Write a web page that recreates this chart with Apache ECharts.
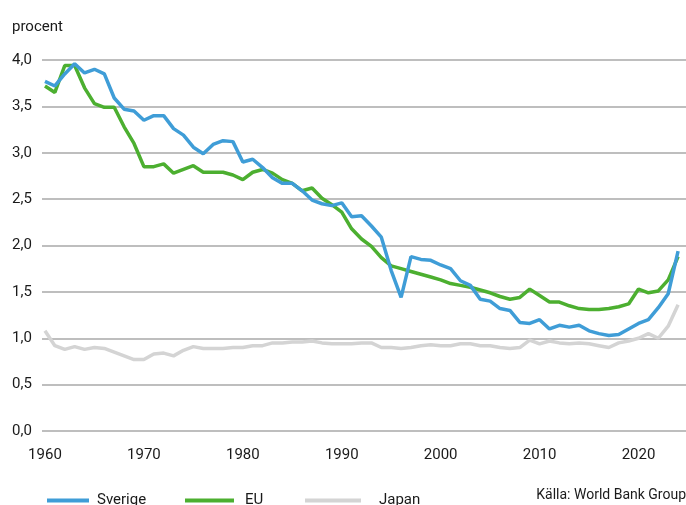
<!DOCTYPE html>
<html lang="sv">
<head>
    <meta charset="UTF-8">
    <title>Energiintensitet</title>
    <style>
      html, body { margin: 0; padding: 0; background: #fff; }
      #chart { width: 686px; height: 505px; }
    </style>
</head>
<body>
  <div id="chart"></div>

  <script src="https://cdn.jsdelivr.net/npm/echarts@6/dist/echarts.min.js"></script>
  <script type="text/javascript">
    // data, one value per year 1960-2024
    const startYear = 1960;
    const xTicks = [1960, 1970, 1980, 1990, 2000, 2010, 2020];

    const sverige = [
      3.77, 3.72, 3.85, 3.96, 3.86, 3.90, 3.85, 3.59, 3.47, 3.45,
      3.35, 3.40, 3.40, 3.26, 3.19, 3.06, 2.99, 3.09, 3.13, 3.12,
      2.90, 2.93, 2.84, 2.73, 2.67, 2.67, 2.59, 2.49, 2.45, 2.43,
      2.46, 2.31, 2.32, 2.21, 2.09, 1.73, 1.44, 1.88, 1.85, 1.84,
      1.79, 1.75, 1.62, 1.57, 1.42, 1.40, 1.32, 1.30, 1.17, 1.16,
      1.20, 1.10, 1.14, 1.12, 1.14, 1.08, 1.05, 1.03, 1.04, 1.10,
      1.16, 1.20, 1.33, 1.48, 1.94
    ];

    const eu = [
      3.72, 3.65, 3.94, 3.94, 3.70, 3.53, 3.49, 3.49, 3.28, 3.10,
      2.85, 2.85, 2.88, 2.78, 2.82, 2.86, 2.79, 2.79, 2.79, 2.76,
      2.71, 2.79, 2.82, 2.78, 2.71, 2.67, 2.59, 2.62, 2.51, 2.44,
      2.36, 2.18, 2.07, 1.99, 1.87, 1.78, 1.75, 1.72, 1.69, 1.66,
      1.63, 1.59, 1.57, 1.55, 1.52, 1.49, 1.45, 1.42, 1.44, 1.53,
      1.46, 1.39, 1.39, 1.35, 1.32, 1.31, 1.31, 1.32, 1.34, 1.37,
      1.53, 1.49, 1.51, 1.63, 1.88
    ];

    const japan = [
      1.08, 0.92, 0.88, 0.91, 0.88, 0.90, 0.89, 0.85, 0.81, 0.77,
      0.77, 0.83, 0.84, 0.81, 0.87, 0.91, 0.89, 0.89, 0.89, 0.90,
      0.90, 0.92, 0.92, 0.95, 0.95, 0.96, 0.96, 0.97, 0.95, 0.94,
      0.94, 0.94, 0.95, 0.95, 0.90, 0.90, 0.89, 0.90, 0.92, 0.93,
      0.92, 0.92, 0.94, 0.94, 0.92, 0.92, 0.90, 0.89, 0.90, 0.98,
      0.94, 0.97, 0.95, 0.94, 0.95, 0.94, 0.92, 0.90, 0.95, 0.97,
      1.00, 1.05, 1.00, 1.13, 1.36
    ];

    function toPairs(values) {
      return values.map(function (v, i) { return [startYear + i, v]; });
    }

    const font = 'Roboto';
    const textColor = '#1a1a1a';
    const blue = '#3f9dd7';
    const green = '#4caf30';
    const grey = '#d4d4d4';

    var dom = document.getElementById('chart');
    var myChart = echarts.init(dom, null, { renderer: 'canvas' });

    var option = {
      animation: false,
      grid: { left: 42, right: 0, top: 60, bottom: 74 },
      graphic: [
        {
          type: 'text', left: 12, top: 20,
          style: { text: 'procent', fontFamily: font, fontSize: 15, fill: textColor }
        },
        {
          type: 'text', right: 0, top: 488,
          style: { text: 'Källa: World Bank Group', fontFamily: font, fontSize: 14, fill: textColor }
        }
      ],
      legend: [
        {
          left: 42, top: 488, itemWidth: 42, itemHeight: 4, icon: 'rect',
          data: ['Sverige'],
          textStyle: { fontFamily: font, fontSize: 15, color: textColor, padding: [0, 0, 0, 3] }
        },
        {
          left: 180, top: 488, itemWidth: 49, itemHeight: 4, icon: 'rect',
          data: ['EU'],
          textStyle: { fontFamily: font, fontSize: 15, color: textColor, padding: [0, 0, 0, 6] }
        },
        {
          left: 300, top: 488, itemWidth: 56, itemHeight: 4, icon: 'rect',
          data: ['Japan'],
          textStyle: { fontFamily: font, fontSize: 15, color: textColor, padding: [0, 0, 0, 13] }
        }
      ],
      xAxis: {
        type: 'value',
        min: 1959.7,
        max: 2024.8,
        axisLine: { show: false },
        axisTick: { show: false },
        splitLine: { show: false },
        axisLabel: {
          customValues: xTicks,
          margin: 17,
          fontFamily: font,
          fontSize: 15,
          color: textColor,
          formatter: function (v) { return String(v); }
        }
      },
      yAxis: {
        type: 'value',
        min: 0,
        max: 4,
        interval: 0.5,
        axisLine: { show: false },
        axisTick: { show: false },
        splitLine: { lineStyle: { color: '#a8a8a8', width: 1.5 } },
        axisLabel: {
          align: 'left',
          margin: 30,
          fontFamily: font,
          fontSize: 15,
          color: textColor,
          formatter: function (v) { return v.toFixed(1).replace('.', ','); }
        }
      },
      series: [
        {
          name: 'Japan', type: 'line', data: toPairs(japan),
          showSymbol: false, color: grey,
          lineStyle: { width: 3.5, color: grey }
        },
        {
          name: 'EU', type: 'line', data: toPairs(eu),
          showSymbol: false, color: green,
          lineStyle: { width: 3.5, color: green }
        },
        {
          name: 'Sverige', type: 'line', data: toPairs(sverige),
          showSymbol: false, color: blue,
          lineStyle: { width: 3.5, color: blue }
        }
      ]
    };

    myChart.setOption(option);
    window.addEventListener('resize', myChart.resize);
  </script>
</body>
</html>
